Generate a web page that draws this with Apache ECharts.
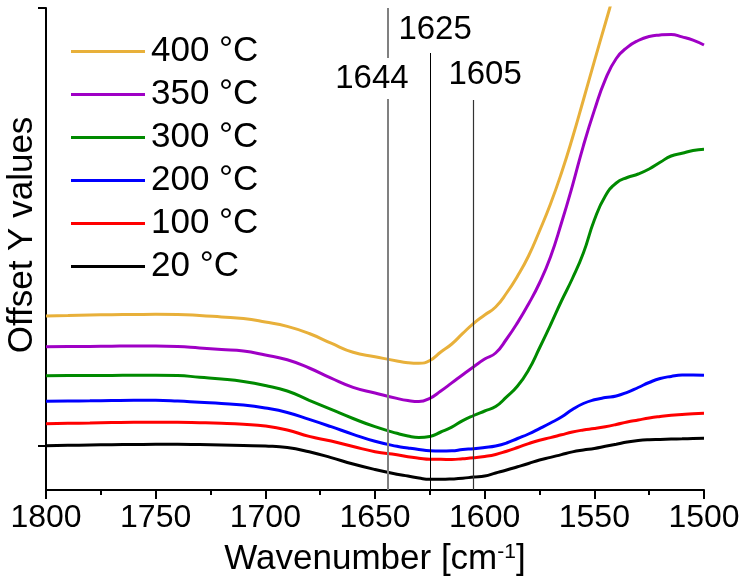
<!DOCTYPE html>
<html>
<head>
<meta charset="utf-8">
<script src="https://cdn.jsdelivr.net/npm/echarts@6/dist/echarts.min.js"></script>
<style>
  html, body { margin: 0; padding: 0; background: #ffffff; }
  #chart { width: 744px; height: 585px; }
</style>
</head>
<body>
<div id="chart"></div>
<script>
// Wavenumber grid (cm^-1) shared by all spectra
const wavenumbers = [1800, 1790, 1780, 1770, 1760, 1750, 1740, 1730, 1720, 1710, 1700, 1690, 1680, 1670, 1660, 1650, 1640,
                     1635, 1630, 1625, 1620, 1615, 1610, 1605, 1600,
                     1595, 1590, 1585, 1580, 1575, 1570, 1565, 1560, 1555, 1550,
                     1545, 1540, 1535, 1530, 1525, 1520, 1515, 1510, 1505, 1500];

// Offset spectra, one per temperature
const t400 = [13.0, 13.05, 13.1, 13.13, 13.15, 13.17, 13.15, 13.05, 12.9, 12.75, 12.4, 11.96, 11.25, 10.28, 9.37, 8.93, 8.5,
              8.33, 8.27, 8.55, 9.4, 10.2, 11.26, 12.27, 13.1,
              13.9, 15.3, 17.0, 19.0, 21.5, 24.2, 27.3, 30.8, 34.6, 38.46,
              42.25, 46.0, 49.5, 52.0, 53.5, 54.5, 55.0, 55.2, 55.2, 55.0];
const t350 = [9.93, 9.94, 9.95, 9.98, 10.0, 10.0, 9.95, 9.8, 9.65, 9.5, 9.1, 8.62, 7.8, 6.78, 5.86, 5.3, 4.76,
              4.55, 4.45, 4.77, 5.5, 6.31, 7.13, 7.93, 8.7,
              9.3, 10.7, 12.34, 14.2, 16.3, 18.9, 22.3, 26.02, 30.02, 33.56,
              36.64, 38.75, 39.87, 40.55, 40.95, 41.1, 41.16, 40.91, 40.59, 40.1];
const t300 = [7.03, 7.04, 7.05, 7.06, 7.07, 7.07, 7.05, 6.87, 6.7, 6.45, 6.05, 5.5, 4.57, 3.66, 2.75, 1.93, 1.27,
              1.0, 0.85, 0.95, 1.4, 1.89, 2.54, 3.05, 3.5,
              3.95, 4.92, 6.0, 7.6, 9.8, 12.1, 14.5, 16.75, 19.3, 22.6,
              25.0, 26.3, 26.85, 27.2, 27.7, 28.37, 29.0, 29.27, 29.55, 29.67];
const t200 = [4.47, 4.5, 4.52, 4.55, 4.57, 4.57, 4.5, 4.37, 4.25, 4.1, 3.8, 3.35, 2.66, 1.93, 1.17, 0.47, -0.03,
              -0.2, -0.35, -0.47, -0.5, -0.48, -0.35, -0.27, -0.15,
              0.0, 0.3, 0.75, 1.2, 1.74, 2.3, 2.9, 3.65, 4.25, 4.62,
              4.84, 5.0, 5.37, 5.85, 6.35, 6.75, 6.96, 7.09, 7.1, 7.07];
const t100 = [2.23, 2.27, 2.3, 2.34, 2.37, 2.37, 2.37, 2.33, 2.27, 2.17, 2.0, 1.6, 0.96, 0.5, -0.05, -0.57, -0.88,
              -1.08, -1.22, -1.33, -1.33, -1.35, -1.27, -1.18, -1.05,
              -0.85, -0.52, -0.15, 0.24, 0.58, 0.84, 1.12, 1.4, 1.6, 1.75,
              1.93, 2.15, 2.4, 2.6, 2.8, 2.95, 3.07, 3.15, 3.22, 3.27];
const t20 = [0.03, 0.07, 0.1, 0.13, 0.15, 0.17, 0.17, 0.14, 0.1, 0.05, 0.0, -0.15, -0.58, -1.16, -1.8, -2.35, -2.82,
             -3.0, -3.2, -3.33, -3.33, -3.3, -3.23, -3.1, -3.0,
             -2.7, -2.4, -2.08, -1.75, -1.4, -1.14, -0.86, -0.59, -0.4, -0.24,
             -0.03, 0.18, 0.4, 0.55, 0.63, 0.66, 0.69, 0.72, 0.75, 0.77];

const seriesNames = ['400 °C', '350 °C', '300 °C', '200 °C', '100 °C', '20 °C'];
const seriesValues = [t400, t350, t300, t200, t100, t20];
const seriesColors = ['#E8B03A', '#9F00C5', '#008A00', '#0000FF', '#FF0000', '#000000'];

// Band positions marked with vertical lines
const peakPositions = [1644, 1625, 1605];
const peakLabels = ['1644', '1625', '1605'];

// Axis ranges and ticks
const yMin = -4.4;
const yMax = 43.8;
const yTicks = [0, yMax];

const FONT = "'Liberation Sans', Arial, Helvetica, sans-serif";

const chart = echarts.init(document.getElementById('chart'), null, { renderer: 'canvas' });

const lineSeries = seriesNames.map((name, i) => ({
  name: name,
  type: 'line',
  z: 3,
  data: wavenumbers.map((w, k) => [w, seriesValues[i][k]]),
  smooth: 0.5,
  symbol: 'none',
  showSymbol: false,
  clip: true,
  lineStyle: { color: seriesColors[i], width: 3 },
  itemStyle: { color: seriesColors[i] },
  emphasis: { disabled: true }
}));

// Vertical reference lines: top end of each line (value units) and style
const peakTop = [yMax, 39.3, 34.6];
const peakStyle = [
  { color: '#808080', width: 2 },
  { color: '#000000', width: 1 },
  { color: '#333333', width: 1.2 }
];
// Where each band label sits (data coordinates)
const peakLabelAt = [[1651.4, 36.75], [1622.6, 41.65], [1599.8, 37.1]];

const markerSeries = {
  name: 'peaks',
  type: 'line',
  z: 1,
  data: [],
  silent: true,
  markLine: {
    silent: true,
    symbol: 'none',
    animation: false,
    label: { show: false },
    data: peakPositions.map((p, i) => [
      { coord: [p, yMin], lineStyle: Object.assign({ type: 'solid' }, peakStyle[i]) },
      { coord: [p, peakTop[i]] }
    ])
  },
  markPoint: {
    silent: true,
    symbol: 'rect',
    symbolSize: 1,
    itemStyle: { color: 'rgba(0,0,0,0)' },
    animation: false,
    label: {
      show: true,
      position: 'inside',
      formatter: '{b}',
      color: '#000',
      fontFamily: FONT,
      fontSize: 33
    },
    data: peakLabels.map((t, i) => ({
      name: t,
      coord: peakLabelAt[i],
      label: i === 0 ? { backgroundColor: '#ffffff', padding: [4, 2] } : {}
    }))
  }
};

const option = {
  animation: false,
  backgroundColor: '#ffffff',
  grid: { left: 46, right: 40, top: 8, bottom: 95, containLabel: false, outerBoundsMode: 'none' },
  legend: {
    data: seriesNames,
    orient: 'vertical',
    left: 66,
    top: 29,
    itemWidth: 74,
    itemHeight: 20,
    itemGap: 8,
    icon: 'path://M0,0 L74,0 L74,3 L0,3 Z',
    textStyle: { fontFamily: FONT, fontSize: 35, color: '#000', padding: [0, 0, 0, 1] },
    selectedMode: false
  },
  xAxis: {
    type: 'value',
    inverse: true,
    min: 1500,
    max: 1800,
    interval: 50,
    name: '{t|Wavenumber [cm}{s|-1}{t|]}',
    nameLocation: 'middle',
    nameGap: 52,
    nameTextStyle: {
      rich: {
        t: { fontFamily: FONT, fontSize: 35, color: '#000' },
        s: { fontFamily: FONT, fontSize: 21, color: '#000', verticalAlign: 'top', padding: [0, 0, 14, 0] }
      }
    },
    axisLine: { onZero: false, lineStyle: { color: '#000', width: 2 } },
    axisTick: { show: true, inside: false, length: 9, lineStyle: { color: '#000', width: 2 } },
    minorTick: { show: true, splitNumber: 2, length: 5, lineStyle: { color: '#000', width: 2 } },
    axisLabel: { color: '#000', fontFamily: FONT, fontSize: 32, margin: 12, formatter: v => String(v) },
    splitLine: { show: false },
    minorSplitLine: { show: false }
  },
  yAxis: {
    type: 'value',
    min: yMin,
    max: yMax,
    name: 'Offset Y values',
    nameLocation: 'middle',
    nameGap: 6,
    nameTextStyle: { fontFamily: FONT, fontSize: 35, color: '#000', padding: [0, 0, 0, 28] },
    axisLine: { show: true, onZero: false, lineStyle: { color: '#000', width: 2 } },
    axisTick: { show: true, inside: false, length: 8, customValues: yTicks, lineStyle: { color: '#000', width: 2 } },
    axisLabel: { show: false },
    splitLine: { show: false }
  },
  series: [markerSeries].concat(lineSeries)
};

chart.setOption(option);
</script>
</body>
</html>
